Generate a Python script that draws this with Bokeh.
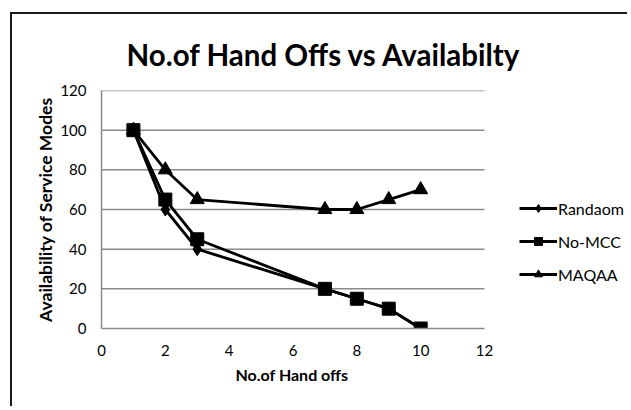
from bokeh.plotting import figure
from bokeh.models import Range1d, Legend, LegendItem, FixedTicker, Title
from bokeh.embed import file_html
from bokeh.resources import INLINE

hand_offs = [1, 2, 3, 7, 8, 9, 10]
randaom = [100, 60, 40, 20, 15, 10, 0]
no_mcc = [100, 65, 45, 20, 15, 10, 0]
maqaa = [100, 80, 65, 60, 60, 65, 70]
x_ticks = [0, 2, 4, 6, 8, 10, 12]
y_ticks = [0, 20, 40, 60, 80, 100, 120]

FONT = "Lato"

# plot area: x axis 0..12 occupies 383 px; frame extends right to hold the legend
AXIS_PX = 383
FRAME_PX = 528
x_end = x_ticks[-1] * FRAME_PX / AXIS_PX

p = figure(width=617, height=394, output_backend="svg", toolbar_location=None,
           x_range=Range1d(0, x_end), y_range=Range1d(0, 120),
           min_border_left=89, min_border_right=0, min_border_top=76, min_border_bottom=80)
p.margin = (12, 0, 0, 10)
p.styles = {"border-top": "2px solid #1a1a1a", "border-left": "2px solid #1a1a1a"}

p.title.text = "No.of Hand Offs vs Availabilty"
p.title.text_font = FONT
p.title.text_font_size = "29.5px"
p.title.text_font_style = "bold"
p.title.align = "left"
p.title.offset = 25
p.title.text_color = "#000000"
p.title.standoff = 38
p.title.text_line_height = 0.85

p.outline_line_color = None
p.xgrid.grid_line_color = None
p.ygrid.grid_line_color = None
p.segment(x0=[x_ticks[0]] * len(y_ticks[1:]), x1=[x_ticks[-1]] * len(y_ticks[1:]),
          y0=y_ticks[1:], y1=y_ticks[1:], line_color="#8a8a8a", line_width=1.5)

p.xaxis.ticker = FixedTicker(ticks=x_ticks)
p.yaxis.ticker = FixedTicker(ticks=y_ticks)
p.xaxis.bounds = (x_ticks[0], x_ticks[-1])

for ax in (p.xaxis[0], p.yaxis[0]):
    ax.axis_line_color = "#8a8a8a"
    ax.axis_line_width = 1.5
    ax.major_tick_line_color = None
    ax.minor_tick_line_color = None
    ax.major_tick_out = 0
    ax.major_tick_in = 0
    ax.major_label_text_font = FONT
    ax.major_label_text_font_size = "15px"
    ax.major_label_text_color = "#000000"
    ax.axis_label_text_font = FONT
    ax.axis_label_text_font_style = "bold"
    ax.axis_label_text_color = "#000000"

p.yaxis.axis_label = "Availability of Service Modes"
p.yaxis.axis_label_text_font_size = "17.5px"
p.xaxis.major_label_standoff = 16
p.yaxis.major_label_standoff = 15
p.yaxis.axis_label_standoff = 1

xlab = Title(text="No.of Hand offs", text_font=FONT, text_font_size="16px",
             text_font_style="bold", text_color="#000000", align="left",
             offset=134, standoff=8)
p.add_layout(xlab, "below")

lw = 2.8
r1 = p.line(hand_offs, randaom, line_color="black", line_width=lw)
m1 = p.scatter(hand_offs, randaom, marker="diamond", size=13, color="black")
r2 = p.line(hand_offs, no_mcc, line_color="black", line_width=lw)
m2 = p.scatter(hand_offs, no_mcc, marker="square", size=13, color="black")
r3 = p.line(hand_offs, maqaa, line_color="black", line_width=lw)
m3 = p.scatter(hand_offs, maqaa, marker="triangle", size=14, color="black")

legend = Legend(items=[
    LegendItem(label="Randaom", renderers=[r1, m1]),
    LegendItem(label="No-MCC", renderers=[r2, m2]),
    LegendItem(label="MAQAA", renderers=[r3, m3]),
], location=(418, 44))
legend.padding = 0
legend.margin = 0
legend.spacing = 13
legend.glyph_width = 38
legend.glyph_height = 20
legend.label_standoff = 1
legend.label_text_font = FONT
legend.label_text_font_size = "16px"
legend.label_text_color = "#000000"
legend.border_line_color = None
legend.background_fill_alpha = 0
p.add_layout(legend, "center")

open("out.html", "w").write(file_html(p, INLINE))
